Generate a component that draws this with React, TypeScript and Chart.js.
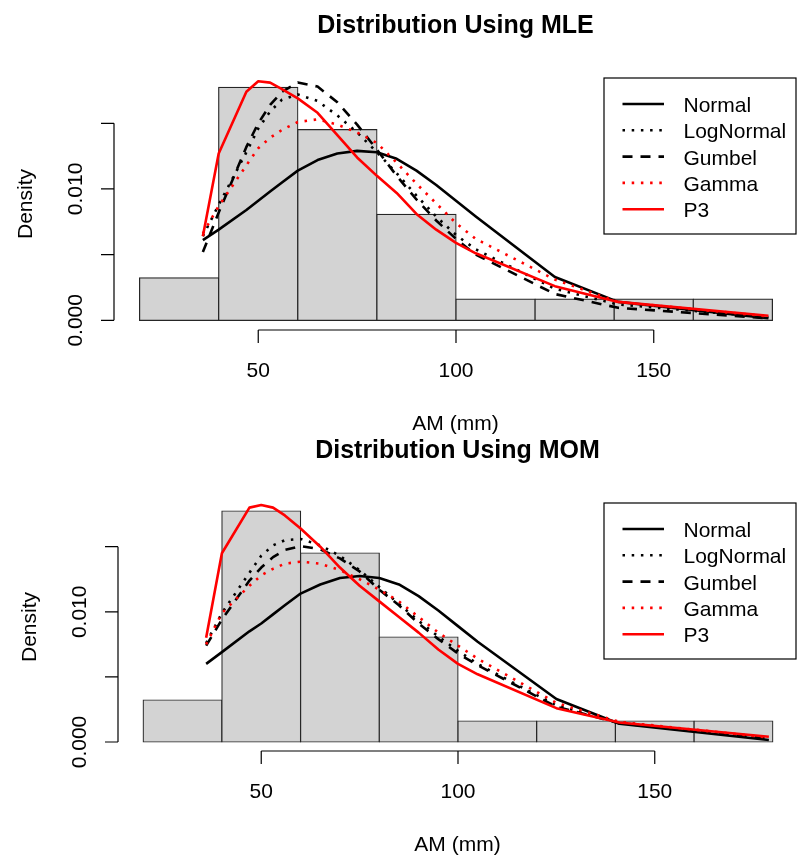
import React, { useEffect, useRef } from 'react';
import { Chart, registerables } from 'chart.js';

Chart.register(...registerables);

// ---- data ----
const binCenters = [30, 50, 70, 90, 110, 130, 150, 170];
const binDensity = [0.003226, 0.017742, 0.014516, 0.008065, 0.001613, 0.001613, 0.001613, 0.001613];

const amPoints = [36, 40, 47, 50, 53, 56, 60, 65, 70, 75, 80, 85, 90, 95, 100, 105, 125, 141, 179];

const mleNormal = [0.0061, 0.0069, 0.0084, 0.0091, 0.0098, 0.0105, 0.0114, 0.0122, 0.0127, 0.0129, 0.0128, 0.0123, 0.0114, 0.0103, 0.0091, 0.0079, 0.0033, 0.0014, 0.00015];
const mleLogNormal = [0.0064, 0.0088, 0.0128, 0.0146, 0.0159, 0.0168, 0.0172, 0.0167, 0.0156, 0.0143, 0.0128, 0.0112, 0.0095, 0.0079, 0.0065, 0.0054, 0.0024, 0.0012, 0.00025];
const mleGumbel = [0.0052, 0.0082, 0.0132, 0.015, 0.0164, 0.0174, 0.0181, 0.0178, 0.0166, 0.0149, 0.013, 0.011, 0.0092, 0.0076, 0.0062, 0.005, 0.002, 0.00095, 0.00015];
const mleGamma = [0.0066, 0.0087, 0.0118, 0.0131, 0.0139, 0.0145, 0.0151, 0.0153, 0.0149, 0.0143, 0.0135, 0.012, 0.0104, 0.0089, 0.0074, 0.0062, 0.0031, 0.0014, 0.0003];
const mleP3 = [0.0064, 0.0127, 0.0174, 0.0182, 0.0181, 0.0176, 0.0169, 0.0158, 0.0141, 0.0124, 0.011, 0.0097, 0.0081, 0.0069, 0.0059, 0.0051, 0.0026, 0.0014, 0.00035];

const momNormal = [0.006, 0.0069, 0.0085, 0.0091, 0.0098, 0.0105, 0.0114, 0.0121, 0.0126, 0.01275, 0.0126, 0.0121, 0.0112, 0.0101, 0.0089, 0.0077, 0.0033, 0.0014, 0.00015];
const momLogNormal = [0.0076, 0.0099, 0.013, 0.0143, 0.0151, 0.0155, 0.0156, 0.0151, 0.0143, 0.0132, 0.0119, 0.0106, 0.0093, 0.0081, 0.007, 0.006, 0.0028, 0.0015, 0.0003];
const momGumbel = [0.0074, 0.0094, 0.0124, 0.0134, 0.0142, 0.01475, 0.01505, 0.0148, 0.0141, 0.0131, 0.0117, 0.0105, 0.0091, 0.0079, 0.0068, 0.0059, 0.0027, 0.00145, 0.0003];
const momGamma = [0.0075, 0.0099, 0.012, 0.0128, 0.0133, 0.0137, 0.01385, 0.0137, 0.0132, 0.0125, 0.0117, 0.0108, 0.0096, 0.0084, 0.0074, 0.0064, 0.003, 0.00155, 0.00035];
const momP3 = [0.008, 0.0145, 0.018, 0.0182, 0.018, 0.0174, 0.0164, 0.015, 0.0134, 0.012, 0.0108, 0.0096, 0.0084, 0.0071, 0.006, 0.0052, 0.0026, 0.0015, 0.0004];

const seriesNames = ['Normal', 'LogNormal', 'Gumbel', 'Gamma', 'P3'];
const xTicks = [50, 100, 150];
const yTicks = [0, 0.005, 0.01, 0.015];
const yTickLabels = ['0.000', '', '0.010', ''];
const xLabel = 'AM (mm)';
const yLabel = 'Density';
const titles = ['Distribution Using MLE', 'Distribution Using MOM'];

// ---- styles ----
const FONT_FAMILY = '"Liberation Sans", Arial, Helvetica, sans-serif';
const BASE_FONT = `21px ${FONT_FAMILY}`;
const TITLE_FONT = `bold 25px ${FONT_FAMILY}`;
const LINE_W = 2.6;
const seriesStyles = [
  { color: '#000000', dash: [] as number[] },
  { color: '#000000', dash: [2.5, 6.7] },
  { color: '#000000', dash: [10, 8] },
  { color: '#ff0000', dash: [2.5, 6.7] },
  { color: '#ff0000', dash: [] as number[] },
];

type PanelCfg = {
  title: string;
  curves: number[][];
  top: number;
  height: number;
  pad: { left: number; right: number; top: number; bottom: number };
  xMin: number;
  xMax: number;
  yMin: number;
  yMax: number;
};

const panels: PanelCfg[] = [
  {
    title: titles[0],
    curves: [mleNormal, mleLogNormal, mleGumbel, mleGamma, mleP3],
    top: 0,
    height: 440,
    pad: { left: 114, right: 0, top: 78, bottom: 110 },
    xMin: 13.53,
    xMax: 186.22,
    yMin: -0.000739,
    yMax: 0.01845,
  },
  {
    title: titles[1],
    curves: [momNormal, momLogNormal, momGumbel, momGamma, momP3],
    top: 427,
    height: 428,
    pad: { left: 118, right: 0, top: 76, bottom: 104 },
    xMin: 13.6,
    xMax: 186.15,
    yMin: -0.000691,
    yMax: 0.018356,
  },
];

function makeDecorPlugin(cfg: PanelCfg) {
  return {
    id: 'rDecor',
    afterDraw(chart: any) {
      const ctx: CanvasRenderingContext2D = chart.ctx;
      const xs = chart.scales.x;
      const ys = chart.scales.y;
      const { left, right, top, bottom } = chart.chartArea;
      ctx.save();
      ctx.strokeStyle = '#000';
      ctx.lineWidth = 1.2;
      ctx.setLineDash([]);
      ctx.lineCap = 'butt';

      // x axis
      const xa = xs.getPixelForValue(xTicks[0]);
      const xb = xs.getPixelForValue(xTicks[xTicks.length - 1]);
      ctx.beginPath();
      ctx.moveTo(xa, bottom);
      ctx.lineTo(xb, bottom);
      xTicks.forEach((v) => {
        const px = xs.getPixelForValue(v);
        ctx.moveTo(px, bottom);
        ctx.lineTo(px, bottom + 13);
      });
      ctx.stroke();

      // y axis
      const ya = ys.getPixelForValue(yTicks[0]);
      const yb = ys.getPixelForValue(yTicks[yTicks.length - 1]);
      ctx.beginPath();
      ctx.moveTo(left, ya);
      ctx.lineTo(left, yb);
      yTicks.forEach((v) => {
        const py = ys.getPixelForValue(v);
        ctx.moveTo(left, py);
        ctx.lineTo(left - 13, py);
      });
      ctx.stroke();

      // tick labels
      ctx.fillStyle = '#000';
      ctx.font = BASE_FONT;
      ctx.textAlign = 'center';
      ctx.textBaseline = 'alphabetic';
      xTicks.forEach((v) => {
        ctx.fillText(String(v), xs.getPixelForValue(v), bottom + 47);
      });
      yTicks.forEach((v, i) => {
        if (!yTickLabels[i]) return;
        ctx.save();
        ctx.translate(left - 32, ys.getPixelForValue(v));
        ctx.rotate(-Math.PI / 2);
        ctx.fillText(yTickLabels[i], 0, 0);
        ctx.restore();
      });

      // axis titles
      const cx = (left + right) / 2;
      ctx.fillText(xLabel, cx, bottom + 100);
      ctx.save();
      ctx.translate(left - 82, (top + bottom) / 2);
      ctx.rotate(-Math.PI / 2);
      ctx.fillText(yLabel, 0, 0);
      ctx.restore();

      // main title
      ctx.font = TITLE_FONT;
      ctx.fillText(cfg.title, cx, top - 45.5);

      // legend
      const bw = 192;
      const bh = 156;
      const bx = right - 193;
      const by = top;
      ctx.fillStyle = '#fff';
      ctx.fillRect(bx, by, bw, bh);
      ctx.strokeStyle = '#000';
      ctx.lineWidth = 1.2;
      ctx.strokeRect(bx, by, bw, bh);
      ctx.font = BASE_FONT;
      ctx.textAlign = 'left';
      seriesNames.forEach((name, i) => {
        const cy = by + 26 + i * 26.3;
        const st = seriesStyles[i];
        ctx.strokeStyle = st.color;
        ctx.lineWidth = LINE_W;
        ctx.setLineDash(st.dash);
        ctx.beginPath();
        ctx.moveTo(bx + 18.5, cy);
        ctx.lineTo(bx + 60, cy);
        ctx.stroke();
        ctx.setLineDash([]);
        ctx.fillStyle = '#000';
        ctx.fillText(name, bx + 79.5, cy + 8);
      });
      ctx.restore();
    },
  };
}

function Panel({ cfg }: { cfg: PanelCfg }) {
  const ref = useRef<HTMLCanvasElement | null>(null);
  useEffect(() => {
    if (!ref.current) return;
    const lineSets = cfg.curves.map((vals, i) => ({
      type: 'line' as const,
      label: seriesNames[i],
      data: amPoints.map((x, j) => ({ x, y: vals[j] })),
      borderColor: seriesStyles[i].color,
      borderWidth: LINE_W,
      borderDash: seriesStyles[i].dash,
      borderCapStyle: 'butt' as const,
      borderJoinStyle: 'round' as const,
      pointRadius: 0,
      tension: 0,
      fill: false,
      order: 5 - i,
    }));
    const chart = new Chart(ref.current, {
      type: 'line',
      data: {
        datasets: [
          {
            type: 'bar' as const,
            label: 'hist',
            data: binCenters.map((x, i) => ({ x, y: binDensity[i] })),
            backgroundColor: '#d3d3d3',
            borderColor: '#262626',
            borderWidth: 1.2,
            borderSkipped: false,
            inflateAmount: 0.6,
            barPercentage: 1,
            categoryPercentage: 1,
            order: 10,
          } as any,
          ...lineSets,
        ],
      },
      options: {
        animation: false,
        responsive: false,
        maintainAspectRatio: false,
        devicePixelRatio: 1,
        events: [],
        layout: { padding: cfg.pad },
        plugins: {
          legend: { display: false },
          tooltip: { enabled: false },
          title: { display: false },
        },
        scales: {
          x: { type: 'linear', min: cfg.xMin, max: cfg.xMax, display: false, offset: false },
          y: { type: 'linear', min: cfg.yMin, max: cfg.yMax, display: false },
        },
      },
      plugins: [makeDecorPlugin(cfg)],
    } as any);
    return () => chart.destroy();
  }, [cfg]);
  return (
    <canvas
      ref={ref}
      width={797}
      height={cfg.height}
      style={{ position: 'absolute', left: 0, top: cfg.top, width: 797, height: cfg.height }}
    />
  );
}

export default function App() {
  return (
    <div style={{ position: 'absolute', left: 0, top: 0, width: 797, height: 855, background: '#fff' }}>
      {panels.map((p, i) => (
        <Panel key={i} cfg={p} />
      ))}
    </div>
  );
}
